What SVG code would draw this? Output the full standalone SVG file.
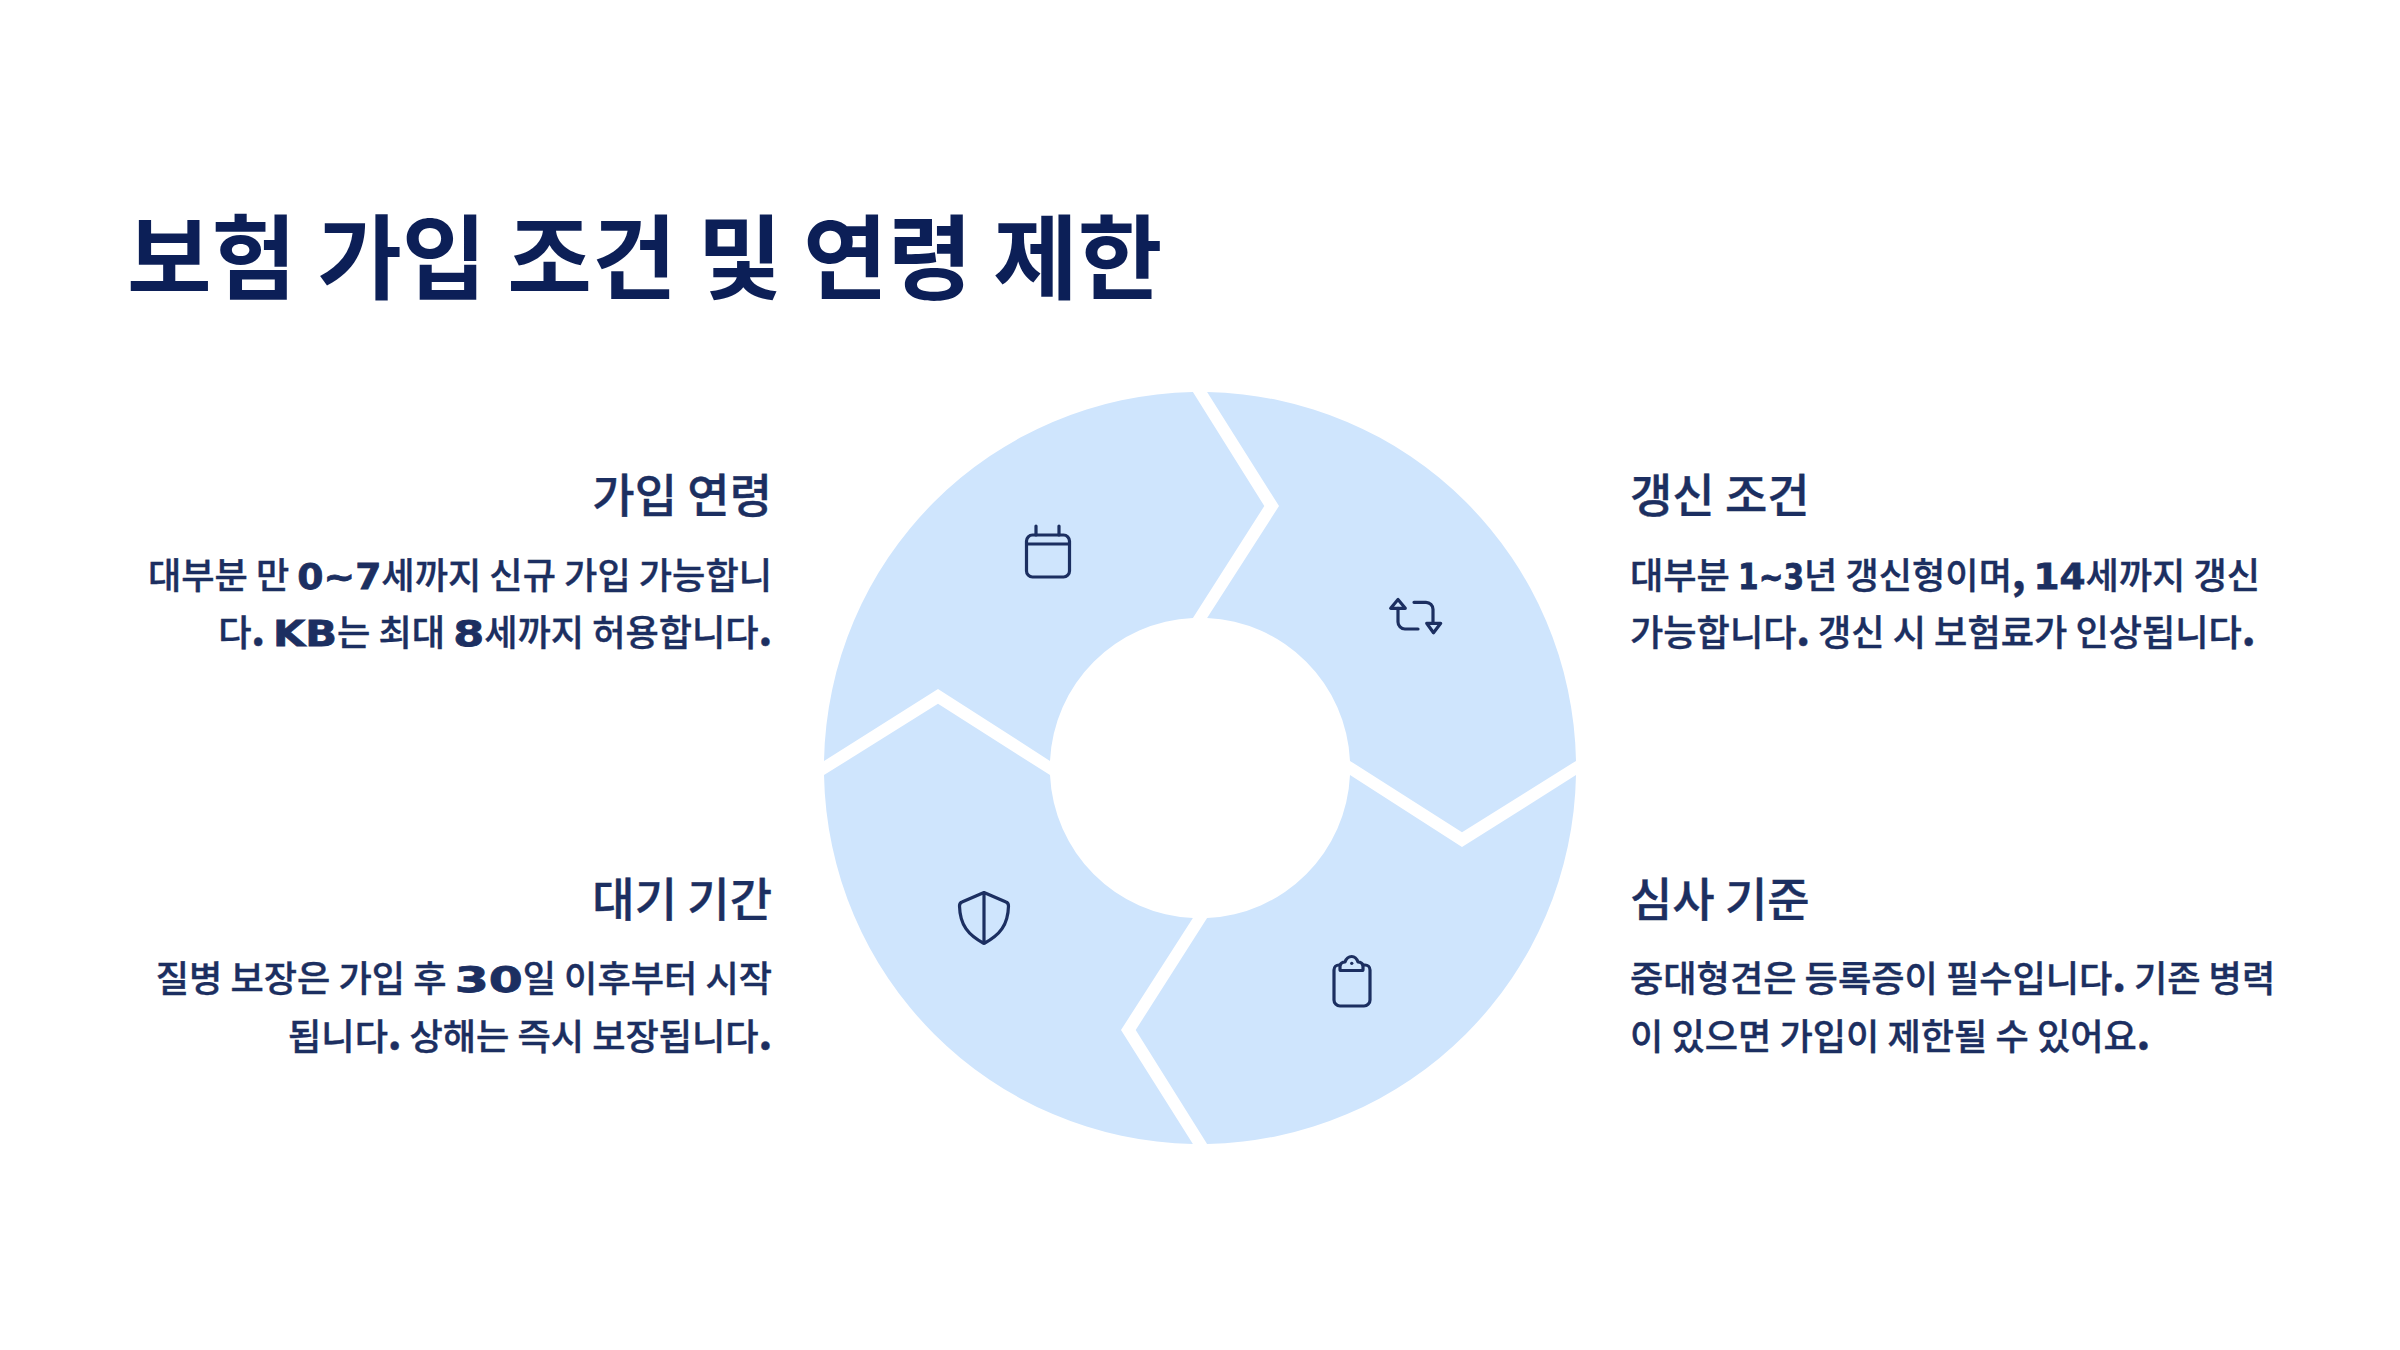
<svg xmlns="http://www.w3.org/2000/svg" width="2400" height="1350" viewBox="0 0 2400 1350">
<style>
text{font-family:"Noto Sans CJK KR","Noto Sans",sans-serif;fill:#1c2f61}
.t{font-size:92px;font-weight:700;fill:#0c1f57}
.h{font-size:46px;font-weight:500;stroke:#1c2f61;stroke-width:.4}
.b{font-size:36.2px;font-weight:500;stroke:#1c2f61;stroke-width:.4}
.r{text-anchor:end}
.l{font-family:"DejaVu Sans",sans-serif;font-weight:700;font-size:36px;stroke:#1c2f61;stroke-width:.8}
.p{font-weight:900;font-size:38px}
.seg{fill:#cfe5fd}
.ic{fill:none;stroke:#1c2f61;stroke-width:3.2;stroke-linecap:round;stroke-linejoin:round}
</style>
<rect width="2400" height="1350" fill="#fff"/>
<text id="title" class="t" x="127" y="292">보험 가입 조건 및 연령 제한</text>
<g id="ring" transform="translate(1200,768)">
<path id="seg1" class="seg" d="M-7.1,-376L64.3,-262L-7.1,-150A150,150 0 0 0 -150,-7.1L-262,-79L-376,-7.1A376,376 0 0 1 -7.1,-376Z"/>
<path id="seg2" class="seg" d="M376,-7.1L262,64.3L150,-7.1A150,150 0 0 0 7.1,-150L79,-262L7.1,-376A376,376 0 0 1 376,-7.1Z"/>
<path id="seg3" class="seg" d="M7.1,376L-64.3,262L7.1,150A150,150 0 0 0 150,7.1L262,79L376,7.1A376,376 0 0 1 7.1,376Z"/>
<path id="seg4" class="seg" d="M-376,7.1L-262,-64.3L-150,7.1A150,150 0 0 0 -7.1,150L-79,262L-7.1,376A376,376 0 0 1 -376,7.1Z"/>
</g>
<g id="icon-calendar" class="ic"><rect x="1026.5" y="535" width="43" height="42" rx="6"/><path d="M1026.5,544H1069.5M1036,526V535M1059,526V535"/></g>
<g id="icon-repeat" class="ic"><path d="M1398,608V622a7,7 0 0 0 7,7H1418M1398,599.5L1390.7,608.3H1405.3ZM1414,602.3H1426a7,7 0 0 1 7,7V623.3M1426.7,623.3H1440.7L1433.5,632.7Z"/></g>
<g id="icon-clipboard" class="ic"><path d="M1340,965H1339a5,5 0 0 0 -5,5V1000a6,6 0 0 0 6,6H1364a6,6 0 0 0 6,-6V970a5,5 0 0 0 -5,-5H1363"/><path d="M1341,970.5H1362a1,1 0 0 0 1,-1V965.5Q1362,962 1358,962Q1356,956.5 1351.7,956.5Q1347,956.5 1345,962Q1341,962 1340,965.5V969.5a1,1 0 0 0 1,1Z"/><path d="M1351.7,963.3h.1"/></g>
<g id="icon-shield" class="ic"><path d="M984,892.5L1006,902Q1008.5,903 1008.5,906C1008,925 1000,935 984,943.5C968,935 960,925 959.5,906Q959.5,903 962,902ZM984,892.5V943.5"/></g>
<g id="n1"><text class="h r" x="772" y="512">가입 연령</text>
<text class="b r" x="772" y="589">대부분 만 <tspan class="l" textLength="84" lengthAdjust="spacingAndGlyphs">0~7</tspan>세까지 신규 가입 가능합니</text>
<text class="b r" x="772" y="646">다<tspan class="p">.</tspan> <tspan class="l" textLength="64" lengthAdjust="spacingAndGlyphs">KB</tspan>는 최대 <tspan class="l" textLength="31" lengthAdjust="spacingAndGlyphs">8</tspan>세까지 허용합니다<tspan class="p">.</tspan></text></g>
<g id="n2"><text class="h" x="1630" y="512">갱신 조건</text>
<text class="b" x="1630" y="589">대부분 <tspan class="l" textLength="66" lengthAdjust="spacingAndGlyphs">1~3</tspan>년 갱신형이며<tspan class="p">,</tspan> <tspan class="l" textLength="52" lengthAdjust="spacingAndGlyphs">14</tspan>세까지 갱신</text>
<text class="b" x="1630" y="646">가능합니다<tspan class="p">.</tspan> 갱신 시 보험료가 인상됩니다<tspan class="p">.</tspan></text></g>
<g id="n3"><text class="h r" x="772" y="916">대기 기간</text>
<text class="b r" x="772" y="992">질병 보장은 가입 후 <tspan class="l" textLength="68" lengthAdjust="spacingAndGlyphs">30</tspan>일 이후부터 시작</text>
<text class="b r" x="772" y="1050">됩니다<tspan class="p">.</tspan> 상해는 즉시 보장됩니다<tspan class="p">.</tspan></text></g>
<g id="n4"><text class="h" x="1630" y="916">심사 기준</text>
<text class="b" x="1630" y="992">중대형견은 등록증이 필수입니다<tspan class="p">.</tspan> 기존 병력</text>
<text class="b" x="1630" y="1050">이 있으면 가입이 제한될 수 있어요<tspan class="p">.</tspan></text></g>
</svg>
